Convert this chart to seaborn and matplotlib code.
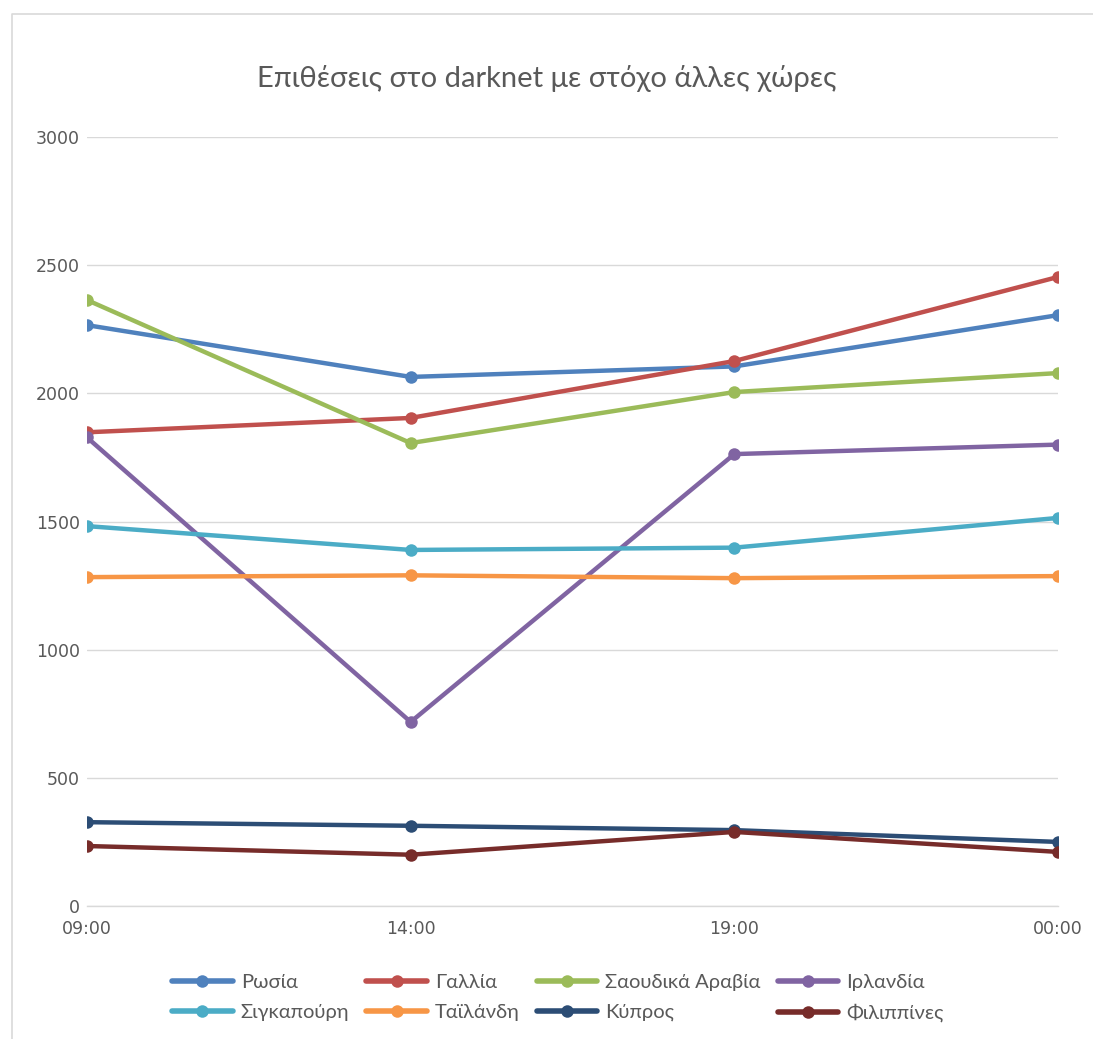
import matplotlib
matplotlib.use("Agg")
import matplotlib.pyplot as plt
import seaborn as sns
import pandas as pd
from matplotlib.lines import Line2D

times = ["09:00", "14:00", "19:00", "00:00"]
countries = ["Ρωσία", "Γαλλία", "Σαουδικά Αραβία", "Ιρλανδία",
             "Σιγκαπούρη", "Ταϊλάνδη", "Κύπρος", "Φιλιππίνες"]
russia = [2266, 2064, 2105, 2305]
france = [1848, 1904, 2126, 2454]
saudi = [2364, 1806, 2005, 2079]
ireland = [1828, 718, 1763, 1800]
singapore = [1482, 1389, 1398, 1514]
thailand = [1283, 1290, 1279, 1287]
cyprus = [327, 313, 296, 250]
philippines = [234, 200, 289, 211]
colors = ["#4F81BD", "#C0504D", "#9BBB59", "#8064A2",
          "#4BACC6", "#F79646", "#2C4D75", "#772C2A"]

series = [russia, france, saudi, ireland, singapore, thailand, cyprus, philippines]
df = pd.DataFrame(
    [(t, c, v) for c, vals in zip(countries, series) for t, v in zip(times, vals)],
    columns=["time", "country", "value"],
)

sns.set_theme(style="white")
plt.rcParams["font.family"] = ["DejaVu Sans"]

fig = plt.figure(figsize=(10.93, 10.39), dpi=100)
ax = fig.add_axes([87 / 1093, 1 - 906 / 1039, (1058 - 87) / 1093, (906 - 137) / 1039])

sns.lineplot(data=df, x="time", y="value", hue="country", hue_order=countries,
             palette=colors, marker="o", markersize=9, markeredgewidth=0,
             linewidth=3.2, sort=False, ax=ax, legend=False, zorder=3)

ax.set_xlim(0, 3)
ax.set_ylim(0, 3000)
ax.set_yticks(range(0, 3001, 500))
ax.set_xlabel("")
ax.set_ylabel("")
ax.grid(axis="y", color="#D9D9D9", linewidth=1)
ax.grid(axis="x", visible=False)
for s in ["top", "right", "left"]:
    ax.spines[s].set_visible(False)
ax.spines["bottom"].set_color("#D9D9D9")
ax.spines["bottom"].set_linewidth(1)
ax.tick_params(axis="both", length=0, labelsize=12.5, colors="#595959")
ax.tick_params(axis="y", pad=5)
ax.tick_params(axis="x", pad=10)
for lab in ax.get_xticklabels():
    lab.set_clip_on(False)

fig.text(0.5, 1 - 78 / 1039, "Επιθέσεις στο darknet με στόχο άλλες χώρες",
         ha="center", va="center", fontsize=21, color="#595959",
         family=["Lato", "DejaVu Sans"], fontweight="normal")

# legend entries laid out row by row
handles = [Line2D([], [], color=c, linewidth=4, marker="o", markersize=9,
                  markeredgewidth=0) for c in colors]
order = [0, 4, 1, 5, 2, 6, 3, 7]
fig.legend([handles[i] for i in order], [countries[i] for i in order],
           loc="center", ncol=4,
           bbox_to_anchor=(558 / 1093, 1 - 998 / 1039), frameon=False,
           prop={"family": ["Lato", "DejaVu Sans"], "size": 14.5},
           labelcolor="#595959", handlelength=3.0, columnspacing=0.85,
           handletextpad=0.4, labelspacing=0.65)

# chart-area frame
fig.add_artist(Line2D([12 / 1093, 12 / 1093, 1.0], [0.0, 1 - 14 / 1039, 1 - 14 / 1039],
                      transform=fig.transFigure, color="#D9D9D9", linewidth=1.2))

fig.savefig("out.png", dpi=100, facecolor="white")
